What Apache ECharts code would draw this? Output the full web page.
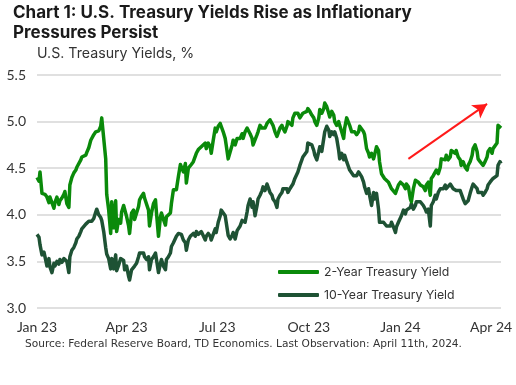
<!DOCTYPE html>
<html>
<head>
<meta charset="utf-8">
<script src="https://cdn.jsdelivr.net/npm/echarts@6/dist/echarts.min.js"></script>
<style>
  html, body { margin: 0; padding: 0; background: #fff; }
  #chart { width: 516px; height: 385px; }
</style>
</head>
<body>
<div id="chart"></div>
<script>
const dates = [
 '2023-01-01','2023-01-03','2023-01-04','2023-01-06','2023-01-08','2023-01-09','2023-01-11','2023-01-13','2023-01-14','2023-01-16',
 '2023-01-18','2023-01-19','2023-01-21','2023-01-23','2023-01-24','2023-01-26','2023-01-28','2023-01-29','2023-01-31','2023-02-02',
 '2023-02-03','2023-02-05','2023-02-07','2023-02-09','2023-02-10','2023-02-12','2023-02-14','2023-02-15','2023-02-17','2023-02-19',
 '2023-02-20','2023-02-22','2023-02-24','2023-02-25','2023-02-27','2023-03-01','2023-03-02','2023-03-04','2023-03-06','2023-03-07',
 '2023-03-09','2023-03-11','2023-03-12','2023-03-14','2023-03-16','2023-03-17','2023-03-19','2023-03-21','2023-03-22','2023-03-24',
 '2023-03-26','2023-03-27','2023-03-29',
 '2023-03-30','2023-04-01','2023-04-03','2023-04-04','2023-04-06','2023-04-08','2023-04-09','2023-04-11','2023-04-13','2023-04-14',
 '2023-04-16','2023-04-18','2023-04-19','2023-04-21','2023-04-23','2023-04-24','2023-04-26','2023-04-28','2023-04-30','2023-05-01',
 '2023-05-03','2023-05-05','2023-05-06','2023-05-08','2023-05-10','2023-05-11','2023-05-13','2023-05-15','2023-05-16','2023-05-18',
 '2023-05-20','2023-05-21','2023-05-23','2023-05-25','2023-05-26','2023-05-28','2023-05-30','2023-05-31','2023-06-02','2023-06-04',
 '2023-06-05','2023-06-07','2023-06-09','2023-06-10','2023-06-12','2023-06-14','2023-06-15','2023-06-17','2023-06-19','2023-06-20',
 '2023-06-22','2023-06-24','2023-06-25','2023-06-27',
 '2023-06-29','2023-06-30','2023-07-02','2023-07-04','2023-07-05','2023-07-07','2023-07-09','2023-07-10','2023-07-12','2023-07-14',
 '2023-07-16','2023-07-17','2023-07-19','2023-07-21','2023-07-22','2023-07-24','2023-07-26','2023-07-27','2023-07-29','2023-07-31',
 '2023-08-01','2023-08-03','2023-08-05','2023-08-06','2023-08-08','2023-08-10','2023-08-11','2023-08-13','2023-08-15','2023-08-16',
 '2023-08-18','2023-08-20','2023-08-21','2023-08-23','2023-08-25','2023-08-26','2023-08-28','2023-08-30','2023-08-31','2023-09-02',
 '2023-09-04','2023-09-05','2023-09-07','2023-09-09','2023-09-10','2023-09-12','2023-09-14','2023-09-15','2023-09-17','2023-09-19',
 '2023-09-20','2023-09-22','2023-09-24','2023-09-25',
 '2023-09-27','2023-09-29','2023-09-30','2023-10-02','2023-10-04','2023-10-06','2023-10-07','2023-10-09','2023-10-11','2023-10-12',
 '2023-10-14','2023-10-16','2023-10-17','2023-10-19','2023-10-21','2023-10-22','2023-10-24','2023-10-26','2023-10-27','2023-10-29',
 '2023-10-31','2023-11-01','2023-11-03','2023-11-05','2023-11-06','2023-11-08','2023-11-10','2023-11-11','2023-11-13','2023-11-15',
 '2023-11-16','2023-11-18','2023-11-20','2023-11-21','2023-11-23','2023-11-25','2023-11-26','2023-11-28','2023-11-30','2023-12-01',
 '2023-12-03','2023-12-05','2023-12-06','2023-12-08','2023-12-10','2023-12-11','2023-12-13','2023-12-15','2023-12-16','2023-12-18',
 '2023-12-20','2023-12-22','2023-12-23','2023-12-25',
 '2023-12-27','2023-12-28','2023-12-30','2024-01-01','2024-01-02','2024-01-04','2024-01-06','2024-01-07','2024-01-09','2024-01-11',
 '2024-01-12','2024-01-14','2024-01-16','2024-01-17','2024-01-19','2024-01-21','2024-01-22','2024-01-24','2024-01-26','2024-01-27',
 '2024-01-29','2024-01-31','2024-02-01','2024-02-03','2024-02-05','2024-02-06','2024-02-08','2024-02-10','2024-02-11','2024-02-13',
 '2024-02-15','2024-02-16','2024-02-18','2024-02-20','2024-02-21','2024-02-23','2024-02-25','2024-02-26','2024-02-28','2024-03-01',
 '2024-03-02','2024-03-04','2024-03-06','2024-03-08','2024-03-09','2024-03-11','2024-03-13','2024-03-14','2024-03-16','2024-03-18',
 '2024-03-19','2024-03-21','2024-03-23','2024-03-24','2024-03-26','2024-03-28','2024-03-29','2024-03-31','2024-04-02','2024-04-03',
 '2024-04-05','2024-04-07','2024-04-08','2024-04-10','2024-04-11'
];

const twoYear = [
 4.40,4.36,4.46,4.23,4.21,4.22,4.19,4.13,4.19,4.13, 4.07,4.13,4.19,4.11,4.15,4.18,4.22,4.25,4.12,4.08,
 4.32,4.40,4.45,4.48,4.51,4.53,4.59,4.62,4.63,4.64, 4.67,4.72,4.80,4.79,4.86,4.89,4.88,4.90,4.95,5.04,
 5.05,4.60,4.22,4.05,3.80,4.14,3.86,4.15,3.82,3.95, 3.91,4.03,4.10,
 4.09,3.98,3.88,3.80,4.02,4.05,3.95,4.02,4.09,4.16, 4.20,4.23,4.18,4.16,4.05,3.88,4.02,4.12,4.16,4.02,
 3.77,3.98,4.02,3.95,3.89,3.98,4.00,4.02,4.12,4.27, 4.29,4.27,4.41,4.54,4.52,4.46,4.55,4.34,4.50,4.48,
 4.54,4.57,4.59,4.66,4.70,4.71,4.73,4.75,4.77,4.71, 4.77,4.73,4.66,4.80,
 4.93,4.89,4.95,4.98,4.96,4.89,4.82,4.75,4.60,4.60, 4.75,4.80,4.75,4.82,4.84,4.82,4.87,4.82,4.89,4.93,
 4.91,4.87,4.82,4.75,4.75,4.86,4.89,4.96,4.93,4.95, 4.93,4.98,5.00,5.02,5.00,4.96,4.89,4.84,4.87,4.93,
 4.96,4.93,4.89,4.95,5.00,5.02,4.96,5.04,5.09,5.11, 5.09,5.04,5.05,5.09,
 5.07,5.11,5.14,5.11,5.07,5.04,5.00,4.96,5.04,5.13, 5.09,5.14,5.20,5.16,5.09,5.05,5.11,5.07,5.00,4.96,
 5.00,4.96,4.89,4.82,4.93,5.04,5.02,4.96,4.89,4.91, 4.89,4.86,4.89,4.95,4.93,4.89,4.86,4.71,4.66,4.62,
 4.66,4.60,4.64,4.73,4.69,4.57,4.44,4.46,4.39,4.37, 4.35,4.33,4.28,4.26,
 4.23,4.24,4.32,4.35,4.37,4.32,4.28,4.33,4.30,4.17, 4.14,4.28,4.37,4.39,4.35,4.32,4.33,4.30,4.26,4.32,
 4.35,4.21,4.39,4.42,4.44,4.48,4.44,4.51,4.60,4.62, 4.59,4.64,4.59,4.62,4.69,4.68,4.66,4.69,4.62,4.59,
 4.53,4.57,4.51,4.48,4.53,4.57,4.64,4.71,4.75,4.68, 4.60,4.57,4.55,4.53,4.57,4.62,4.68,4.71,4.66,4.71,
 4.73,4.77,4.96,4.95,4.93
];

const tenYear = [
 3.79,3.76,3.68,3.57,3.60,3.55,3.45,3.53,3.44,3.38, 3.48,3.45,3.50,3.47,3.52,3.49,3.53,3.54,3.50,3.38,
 3.55,3.62,3.65,3.70,3.74,3.77,3.82,3.85,3.87,3.90, 3.92,3.93,3.91,3.93,3.96,4.03,4.06,4.00,3.97,3.94,
 3.82,3.65,3.58,3.53,3.42,3.53,3.42,3.57,3.40,3.46, 3.53,3.54,3.51,
 3.41,3.45,3.34,3.30,3.41,3.43,3.45,3.48,3.55,3.59, 3.61,3.59,3.55,3.52,3.55,3.41,3.52,3.55,3.59,3.52,
 3.38,3.48,3.52,3.45,3.41,3.52,3.55,3.59,3.66,3.70, 3.71,3.77,3.80,3.82,3.79,3.73,3.70,3.62,3.73,3.77,
 3.75,3.80,3.77,3.82,3.79,3.77,3.82,3.80,3.73,3.77, 3.80,3.77,3.73,3.79,
 3.85,3.81,3.92,3.99,4.05,4.03,3.99,3.92,3.78,3.74, 3.78,3.81,3.74,3.83,3.85,3.88,3.94,3.96,3.92,4.03,
 4.10,4.17,4.08,4.14,3.99,4.10,4.17,4.21,4.26,4.30, 4.26,4.33,4.32,4.24,4.21,4.17,4.14,4.08,4.17,4.21,
 4.24,4.28,4.30,4.28,4.24,4.28,4.30,4.33,4.39,4.41, 4.46,4.53,4.59,4.62,
 4.60,4.68,4.77,4.78,4.75,4.69,4.64,4.59,4.68,4.73, 4.68,4.82,4.89,4.95,4.91,4.84,4.89,4.86,4.89,4.82,
 4.69,4.60,4.66,4.59,4.64,4.57,4.51,4.48,4.46,4.42, 4.44,4.42,4.46,4.48,4.41,4.35,4.30,4.23,4.28,4.21,
 4.10,4.24,4.17,4.23,4.06,3.92,3.94,3.92,3.90,3.88, 3.87,3.88,3.92,3.87,
 3.81,3.87,3.92,3.94,3.99,4.05,4.01,4.05,4.03,4.08, 4.12,4.06,4.10,4.14,4.12,4.14,4.15,4.10,4.06,4.03,
 4.06,3.88,4.10,4.14,4.21,4.17,4.24,4.28,4.30,4.28, 4.32,4.28,4.30,4.33,4.32,4.28,4.30,4.26,4.24,4.26,
 4.23,4.17,4.12,4.10,4.15,4.23,4.30,4.33,4.33,4.28, 4.24,4.23,4.24,4.21,4.24,4.28,4.32,4.35,4.33,4.39,
 4.41,4.42,4.53,4.57,4.55
];

const seriesNames = ['2-Year Treasury Yield', '10-Year Treasury Yield'];
const xLabelDates = ['2023-01-01','2023-04-01','2023-07-01','2023-10-01','2024-01-01','2024-04-01'];
const xRange = ['2023-01-01', '2024-04-11'];
const yMin = 3.0, yMax = 5.5, yStep = 0.5;
const arrowFrom = ['2024-01-09', 4.60];
const arrowTo = ['2024-03-28', 5.19];
const monthNames = ['Jan','Feb','Mar','Apr','May','Jun','Jul','Aug','Sep','Oct','Nov','Dec'];

function ts(s) {
  const p = s.split('-').map(Number);
  return new Date(p[0], p[1] - 1, p[2]).getTime();
}

const chart = echarts.init(document.getElementById('chart'), null, { renderer: 'canvas' });
const FONT = 'Lato';

chart.setOption({
  animation: false,
  backgroundColor: '#ffffff',
  title: [
    {
      text: 'Chart 1: U.S. Treasury Yields Rise as Inflationary\nPressures Persist',
      left: 13, top: 3, padding: 0,
      textStyle: { fontFamily: 'Inter', fontWeight: 'bold', fontSize: 17, lineHeight: 20, color: '#1a1a1a' }
    },
    {
      text: 'U.S. Treasury Yields, %',
      left: 37, top: 47, padding: 0,
      textStyle: { fontFamily: 'Inter', fontWeight: 'normal', fontSize: 14.2, color: '#333333' }
    },
    {
      text: 'Source: Federal Reserve Board, TD Economics. Last Observation: April 11th, 2024.',
      left: 25, top: 339, padding: 0,
      textStyle: { fontFamily: 'DejaVu Sans', fontWeight: 'normal', fontSize: 10.6, color: '#333333' }
    }
  ],
  grid: { left: 37, right: 15, top: 75, bottom: 77, containLabel: false },
  legend: {
    orient: 'vertical',
    left: 278, top: 265, padding: 0,
    itemWidth: 41, itemHeight: 4, itemGap: 9,
    icon: 'roundRect',
    textStyle: { fontFamily: 'Inter', fontSize: 12.3, color: '#333333', lineHeight: 14 },
    data: seriesNames
  },
  xAxis: {
    type: 'value',
    min: ts(xRange[0]), max: ts(xRange[1]),
    axisLine: { show: false },
    axisTick: { show: false },
    splitLine: { show: false },
    axisLabel: {
      customValues: xLabelDates.map(ts),
      margin: 12,
      fontFamily: FONT, fontSize: 14, color: '#333333',
      formatter: function (v) {
        const d = new Date(v);
        return monthNames[d.getMonth()] + ' ' + String(d.getFullYear()).slice(2);
      }
    }
  },
  yAxis: {
    type: 'value',
    min: yMin, max: yMax, interval: yStep,
    axisLine: { show: false },
    axisTick: { show: false },
    axisLabel: {
      margin: 11,
      fontFamily: FONT, fontSize: 14, color: '#333333',
      formatter: function (v) { return v.toFixed(1); }
    },
    splitLine: { lineStyle: { color: '#d6d6d6', width: 1.5 } }
  },
  series: [
    {
      name: seriesNames[0],
      type: 'line',
      z: 3,
      showSymbol: false,
      symbol: 'none',
      color: '#0a8a0a',
      lineStyle: { width: 3.5, color: '#0a8a0a', join: 'round' },
      data: dates.map((d, i) => [ts(d), twoYear[i]]),
      markLine: {
        silent: true,
        symbol: ['none', 'arrow'],
        symbolSize: [12, 14],
        label: { show: false },
        lineStyle: { color: '#ff1a1a', width: 2, type: 'solid' },
        emphasis: { disabled: true },
        data: [[
          { coord: [ts(arrowFrom[0]), arrowFrom[1]] },
          { coord: [ts(arrowTo[0]), arrowTo[1]] }
        ]]
      }
    },
    {
      name: seriesNames[1],
      type: 'line',
      z: 2,
      showSymbol: false,
      symbol: 'none',
      color: '#1e5234',
      lineStyle: { width: 3.5, color: '#1e5234', join: 'round' },
      data: dates.map((d, i) => [ts(d), tenYear[i]])
    }
  ]
});
</script>
</body>
</html>
